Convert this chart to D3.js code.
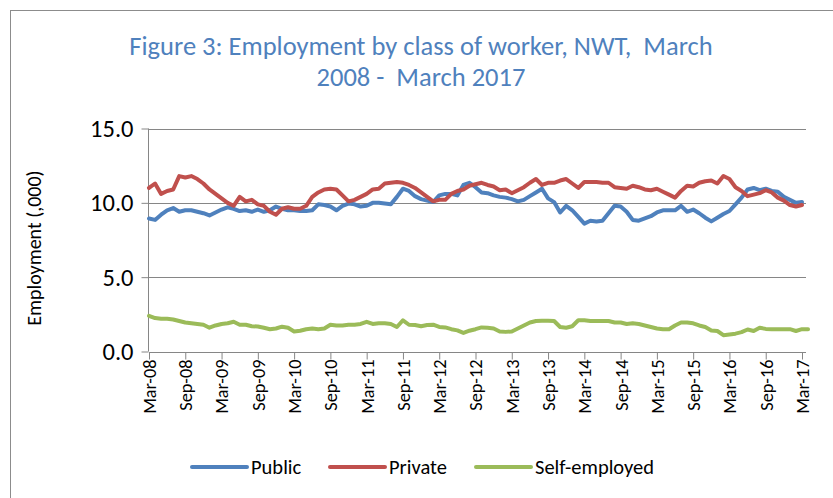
<!DOCTYPE html>
<html><head><meta charset="utf-8">
<script src="https://cdn.jsdelivr.net/npm/d3@7"></script>
<style>
body{margin:0;background:#fff;}
svg{display:block;}
svg text{font-family:Carlito,Calibri,Lato,sans-serif;}
</style></head>
<body><svg id="c" width="833" height="498"></svg>
<script>
const titleLines = ["Figure 3: Employment by class of worker, NWT,  March", "2008 -  March 2017"];
const yTitle = "Employment (,000)";
const yTicks = [0, 5, 10, 15];
const xTickLabels = ["Mar-08","Sep-08","Mar-09","Sep-09","Mar-10","Sep-10","Mar-11","Sep-11","Mar-12","Sep-12","Mar-13","Sep-13","Mar-14","Sep-14","Mar-15","Sep-15","Mar-16","Sep-16","Mar-17"];
const seriesNames = ["Public","Private","Self-employed"];
const seriesColors = ["#4F81BD","#C0504D","#9BBB59"];
// monthly values, Mar 2008 .. Mar 2017 (109 months), thousands
const publicVals = [8.95,8.85,9.2,9.5,9.65,9.4,9.5,9.5,9.4,9.3,9.15,9.35,9.55,9.7,9.6,9.45,9.5,9.4,9.55,9.4,9.5,9.75,9.6,9.5,9.5,9.45,
 9.45,9.5,9.9,9.85,9.75,9.5,9.8,9.95,9.9,9.75,9.8,10.0,10.0,9.95,9.9,10.4,10.95,10.8,10.45,10.25,10.15,10.05,10.5,10.6,10.6,10.5,11.2,
 11.35,11.05,10.7,10.65,10.5,10.4,10.35,10.25,10.1,10.2,10.45,10.7,10.95,10.3,10.05,9.35,9.8,9.5,9.05,8.6,8.8,8.75,8.8,9.3,9.8,9.75,9.4,8.85,
 8.8,8.95,9.1,9.35,9.5,9.5,9.5,9.8,9.4,9.55,9.3,9.0,8.75,9.0,9.25,9.45,9.9,10.35,10.9,11.0,10.85,10.95,10.8,10.75,10.4,10.2,10.0,10.05];
const privateVals = [11.0,11.3,10.6,10.8,10.9,11.8,11.7,11.8,11.6,11.3,10.9,10.6,10.3,10.0,9.8,10.4,10.1,10.2,9.9,9.8,9.4,9.2,9.6,9.7,9.6,9.6,
 9.8,10.4,10.7,10.9,10.95,10.9,10.5,10.1,10.2,10.4,10.6,10.9,10.95,11.3,11.35,11.4,11.35,11.2,11.0,10.7,10.4,10.1,10.2,10.2,10.6,10.8,10.9,
 11.15,11.25,11.35,11.2,11.1,10.85,10.9,10.65,10.85,11.05,11.35,11.6,11.2,11.35,11.35,11.5,11.6,11.3,11.0,11.4,11.4,11.4,11.35,11.35,11.05,11.0,10.95,11.15,
 11.05,10.9,10.85,10.95,10.75,10.55,10.35,10.8,11.15,11.1,11.35,11.45,11.5,11.3,11.8,11.6,11.05,10.8,10.45,10.55,10.65,10.85,10.7,10.35,10.15,9.85,9.75,9.85];
const selfVals = [2.4,2.25,2.2,2.2,2.15,2.05,1.95,1.9,1.85,1.8,1.6,1.75,1.85,1.9,2.0,1.8,1.8,1.7,1.68,1.6,1.5,1.55,1.67,1.6,1.35,1.4,
 1.5,1.55,1.5,1.55,1.8,1.75,1.75,1.8,1.8,1.85,2.0,1.85,1.9,1.9,1.85,1.65,2.1,1.8,1.78,1.7,1.78,1.8,1.65,1.62,1.5,1.42,1.25,1.4,
 1.5,1.62,1.6,1.55,1.35,1.32,1.35,1.55,1.75,1.95,2.05,2.07,2.07,2.05,1.65,1.6,1.7,2.1,2.1,2.05,2.05,2.05,2.05,1.95,1.95,1.85,1.9,
 1.85,1.75,1.65,1.55,1.5,1.5,1.75,1.95,1.95,1.9,1.75,1.65,1.42,1.38,1.1,1.15,1.2,1.3,1.48,1.38,1.6,1.52,1.5,1.5,1.5,1.5,1.38,1.5,1.5];

const series = [publicVals, privateVals, selfVals];
const svg = d3.select("#c");

// chart border
svg.append("rect").attr("x",10.5).attr("y",10.5).attr("width",840).attr("height",520)
  .attr("fill","none").attr("stroke","#8c8c8c").attr("stroke-width",1);

const x = d3.scaleLinear().domain([0, publicVals.length-1]).range([149, 802]);
const y = d3.scaleLinear().domain([0, 15]).range([351.5, 128.5]);

// title
svg.append("g").selectAll("text").data(titleLines).join("text")
  .attr("x", 421).attr("y", (d,i)=>55+i*31).attr("text-anchor","middle")
  .attr("fill","#4F81BD").style("font-size","26.5px").style("white-space","pre").text(d=>d);

// gridlines
svg.append("g").selectAll("line").data(yTicks.filter(v=>v>0)).join("line")
  .attr("x1",149).attr("x2",806).attr("y1",d=>Math.round(y(d))+0.5).attr("y2",d=>Math.round(y(d))+0.5)
  .attr("stroke","#868686").attr("stroke-width",1);

// y axis
const yAxis = svg.append("g").attr("transform","translate(148.5,0)")
  .call(d3.axisLeft(y).tickValues(yTicks).tickFormat(d3.format(".1f")).tickSize(7).tickPadding(8));
yAxis.attr("font-family",null);
yAxis.select(".domain").attr("stroke","#868686").attr("d","M0,"+(y(15))+"V"+(y(0)));
yAxis.selectAll(".tick line").attr("stroke","#868686");
yAxis.selectAll(".tick text").style("font-size","24.5px").attr("fill","#000");

// x axis
const xTickIdx = xTickLabels.map((d,i)=>i*6);
const xAxis = svg.append("g").attr("transform","translate(0,"+(Math.round(y(0))+0.5)+")")
  .call(d3.axisBottom(x).tickValues(xTickIdx).tickFormat((d,i)=>xTickLabels[i]).tickSize(7).tickSizeOuter(0));
xAxis.attr("font-family",null);
xAxis.select(".domain").attr("stroke","#868686").attr("d","M149,0H806");
xAxis.selectAll(".tick line").attr("stroke","#868686");
xAxis.selectAll(".tick text").style("font-size","18.3px").attr("fill","#000")
  .attr("transform","rotate(-90)").attr("text-anchor","end").attr("x",-7).attr("y",0).attr("dy","0.35em");

// y title
svg.append("text").attr("transform","translate(41,248) rotate(-90)").attr("text-anchor","middle")
  .style("font-size","20px").attr("fill","#000").text(yTitle);

// lines
const line = d3.line().x((d,i)=>x(i)).y(d=>y(d));
svg.append("g").selectAll("path").data(series).join("path")
  .attr("d", d=>line(d)).attr("fill","none").attr("stroke",(d,i)=>seriesColors[i])
  .attr("stroke-width",4).attr("stroke-linejoin","round").attr("stroke-linecap","round");

// legend
const legX = [192, 330, 476];
const leg = svg.append("g").selectAll("g").data(seriesNames).join("g")
  .attr("transform",(d,i)=>"translate("+legX[i]+",467)");
leg.append("line").attr("x1",0).attr("x2",55).attr("stroke",(d,i)=>seriesColors[i])
  .attr("stroke-width",4).attr("stroke-linecap","round");
leg.append("text").attr("x",59).attr("dy","0.35em").style("font-size","20.5px").attr("fill","#000").text(d=>d);
</script></body></html>
